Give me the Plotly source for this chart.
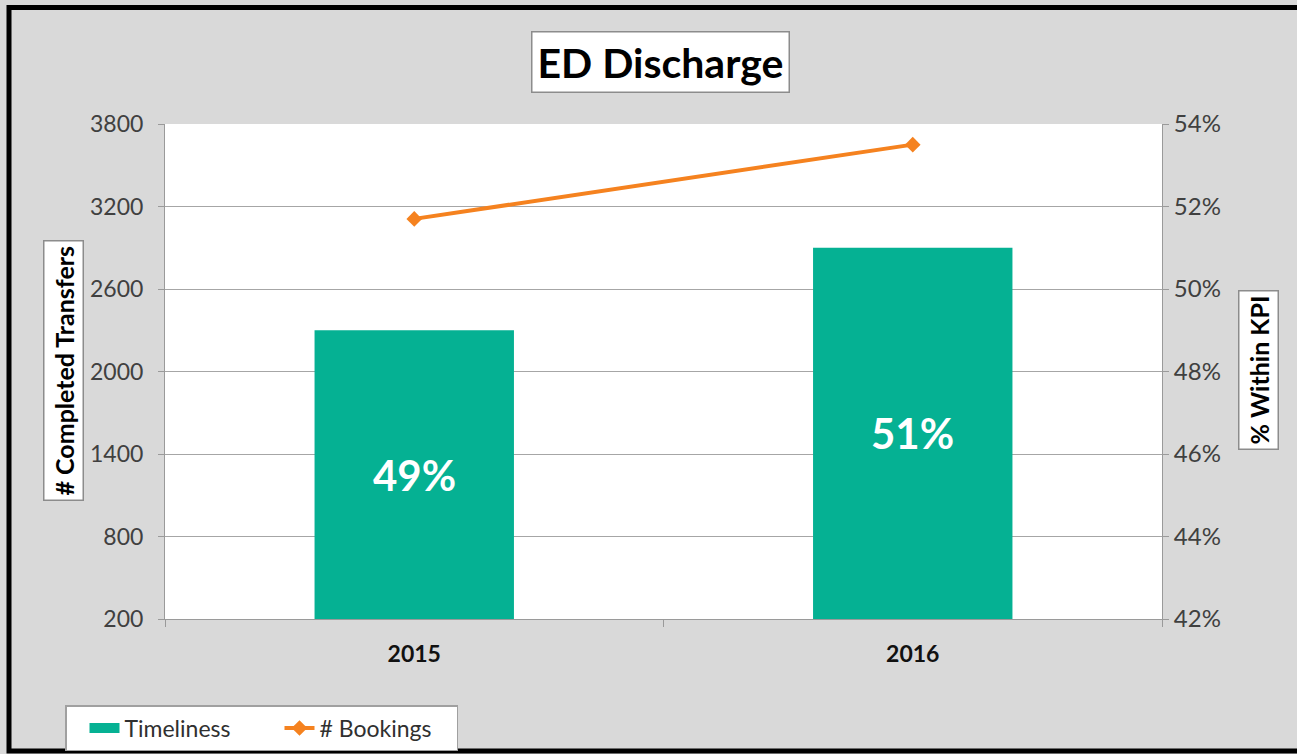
import plotly.graph_objects as go

years = ["2015", "2016"]
completed_transfers = [2300, 2900]
timeliness_pct = ["49%", "51%"]
bookings_pct = [0.517, 0.535]

Y_MIN, Y_MAX = 200, 3800

W, H = 1297, 754
L, R, T, B = 165, 135, 124, 135
pw, ph = W - L - R, H - T - B

def px(x):
    return (x - L) / pw

def py(y):
    return (H - B - y) / ph

FONT = "Lato, Calibri, 'Open Sans', sans-serif"
TEAL = "#05b193"
ORANGE = "#f5821f"

fig = go.Figure()
fig.add_trace(go.Bar(
    x=years, y=completed_transfers, name="Timeliness", showlegend=False,
    marker=dict(color=TEAL, line=dict(width=0)),
))
# legend swatch for the bars (wide rectangle like the original)
fig.add_trace(go.Scatter(
    x=[years[0]], y=[None], name="Timeliness", mode="lines",
    line=dict(color=TEAL, width=17), showlegend=True, hoverinfo="skip",
))
fig.add_trace(go.Scatter(
    x=years, y=bookings_pct, name="# Bookings", yaxis="y2",
    mode="lines+markers",
    line=dict(color=ORANGE, width=4),
    marker=dict(symbol="diamond", size=12, color=ORANGE),
))

# value labels centred in the visible part of each bar
bar_labels = [
    dict(x=i, y=(Y_MIN + v) / 2, xref="x", yref="y", text=f"<b>{t}</b>",
         showarrow=False, xanchor="center", yanchor="middle",
         font=dict(size=42, color="white", family=FONT))
    for i, (v, t) in enumerate(zip(completed_transfers, timeliness_pct))
]

fig.update_layout(
    width=W, height=H,
    margin=dict(l=L, r=R, t=T, b=B, autoexpand=False),
    paper_bgcolor="#d9d9d9", plot_bgcolor="white",
    font=dict(family=FONT, size=23, color="#404040"),
    bargap=0.6,
    showlegend=True,
    legend=dict(
        orientation="h", x=px(65), y=py(705), xanchor="left", yanchor="top",
        bgcolor="white", bordercolor="#a0a0a0", borderwidth=1.5,
        font=dict(size=23, color="#303030", family=FONT),
        entrywidth=132, entrywidthmode="pixels",
        indentation=18,
        tracegroupgap=0,
    ),
    xaxis=dict(
        type="category", categoryorder="array", categoryarray=years,
        range=[-0.5, len(years) - 0.5],
        showgrid=False, showline=True, linecolor="#9a9a9a", linewidth=1,
        ticks="outside", tickson="boundaries", ticklen=7, tickcolor="#9a9a9a",
        tickfont=dict(size=23, color="#111111", family=FONT, weight="bold"),
        ticklabelstandoff=14,
        mirror=False,
    ),
    yaxis=dict(
        range=[Y_MIN, Y_MAX], dtick=600, tick0=200, showgrid=True, gridcolor="#a6a6a6", gridwidth=1,
        showline=True, linecolor="#9a9a9a", linewidth=1,
        ticks="outside", ticklen=6, tickcolor="#9a9a9a", zeroline=False,
        tickfont=dict(size=23, color="#404040"),
        ticklabelstandoff=10,
    ),
    yaxis2=dict(
        range=[0.42, 0.54], dtick=0.02, tick0=0.42, overlaying="y", side="right",
        tickformat=".0%", showgrid=False, showline=True, linecolor="#9a9a9a", linewidth=1,
        ticks="outside", ticklen=6, tickcolor="#9a9a9a", zeroline=False,
        tickfont=dict(size=24, color="#404040"),
    ),
    annotations=[
        dict(text="<b>ED Discharge</b>", x=px(660), y=py(62), xref="paper", yref="paper",
             xanchor="center", yanchor="middle",
             showarrow=False, font=dict(size=41, color="black", family=FONT),
             bgcolor="white", bordercolor="#8c8c8c", borderwidth=1.5, borderpad=5),
        dict(text="<b># Completed Transfers</b>", x=px(63), y=py(371), xref="paper", yref="paper",
             xanchor="center", yanchor="middle",
             showarrow=False, textangle=-90, font=dict(size=25, color="black", family=FONT),
             bgcolor="white", bordercolor="#8c8c8c", borderwidth=1.5, borderpad=4),
        dict(text="<b>% Within KPI</b>", x=px(1258), y=py(370), xref="paper", yref="paper",
             xanchor="center", yanchor="middle",
             showarrow=False, textangle=-90, font=dict(size=25, color="black", family=FONT),
             bgcolor="white", bordercolor="#8c8c8c", borderwidth=1.5, borderpad=4),
    ] + bar_labels,
    shapes=[
        dict(type="rect", xref="paper", yref="paper",
             x0=px(9), x1=px(1310), y0=py(751), y1=py(7.5),
             line=dict(color="black", width=5), fillcolor="rgba(0,0,0,0)", layer="above"),
    ],
)

fig.write_html(
    "out.html",
    config={"displayModeBar": False},
    post_script="document.body.style.margin='0';document.body.style.overflow='hidden';",
)
